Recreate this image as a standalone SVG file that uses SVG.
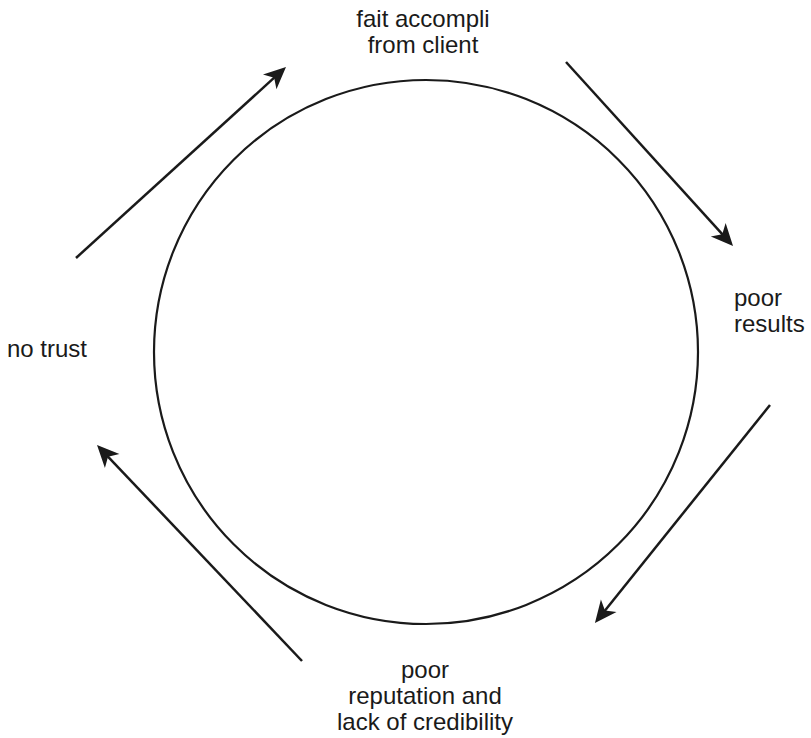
<svg xmlns="http://www.w3.org/2000/svg" width="811" height="738" viewBox="0 0 811 738">
  <style>
    .label { font-family: "Liberation Sans", Arial, sans-serif; font-size: 24px; fill: #1a1a1a; }
    .mid { text-anchor: middle; }
    .ring { fill: none; stroke: #1a1a1a; stroke-width: 2.2; }
    .flow { fill: none; stroke: #1a1a1a; stroke-width: 2.5; marker-end: url(#head); }
  </style>
  <defs>
    <!-- notched arrowhead, tip placed 10px past the line end -->
    <marker id="head" markerUnits="userSpaceOnUse" markerWidth="24" markerHeight="22" refX="12" refY="10" orient="auto" overflow="visible">
      <path d="M22,10 L0,0 L6,10 L0,20 Z" fill="#1a1a1a"/>
    </marker>
  </defs>

  <g id="cycle">
    <circle class="ring" cx="426" cy="352" r="272"/>
  </g>

  <g id="connectors">
    <line class="flow" x1="76" y1="258" x2="278.6" y2="73.7"/>
    <line class="flow" x1="566" y1="62" x2="726.3" y2="238.6"/>
    <line class="flow" x1="770" y1="405" x2="601.2" y2="615.2"/>
    <line class="flow" x1="302" y1="661" x2="103.9" y2="452.3"/>
  </g>

  <g id="fait-accompli">
    <text class="label mid" x="423" y="27">fait accompli</text>
    <text class="label mid" x="423" y="53">from client</text>
  </g>

  <g id="poor-results">
    <text class="label" x="734" y="306">poor</text>
    <text class="label" x="734" y="332">results</text>
  </g>

  <g id="poor-reputation">
    <text class="label mid" x="425" y="678">poor</text>
    <text class="label mid" x="425" y="704">reputation and</text>
    <text class="label mid" x="425" y="730">lack of credibility</text>
  </g>

  <g id="no-trust">
    <text class="label" x="7" y="357">no trust</text>
  </g>
</svg>
